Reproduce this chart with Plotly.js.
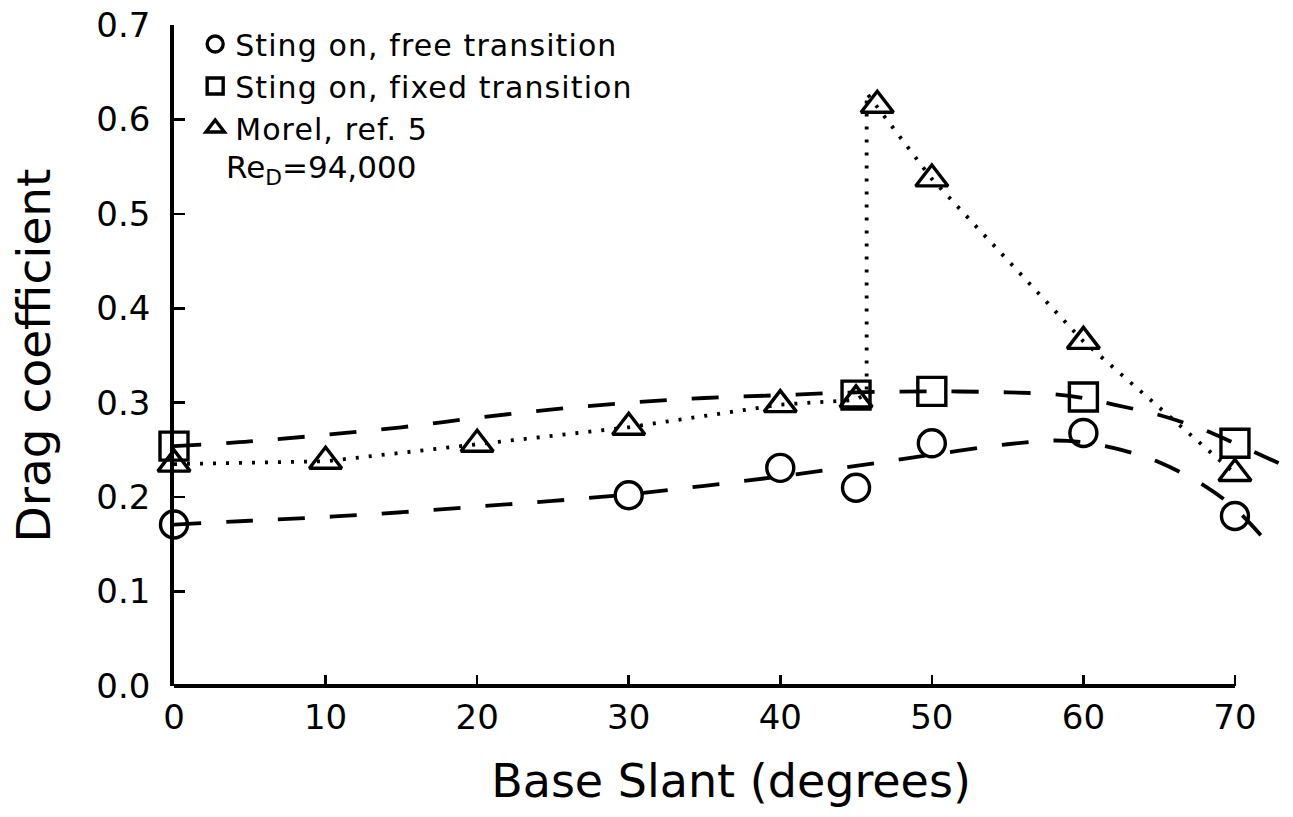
<!DOCTYPE html>
<html>
<head>
<meta charset="utf-8">
<script src="https://cdn.plot.ly/plotly-3.0.1.min.js"></script>
<style>
html,body{margin:0;padding:0;background:#fff;}
.legendtext{letter-spacing:1.1px;}
</style>
</head>
<body>
<div id="chart" style="width:1293px;height:817px;"></div>
<script>
// ---- data ----
const freeX = [0, 30, 40, 45, 50, 60, 70];
const freeY = [0.171, 0.202, 0.231, 0.210, 0.257, 0.268, 0.180];

const fixedX = [0, 45, 50, 60, 70];
const fixedY = [0.254, 0.308, 0.312, 0.306, 0.257];

const morelX = [0, 10, 20, 30, 40, 45, 46.4, 50, 60, 70];
const morelY = [0.235, 0.238, 0.256, 0.274, 0.298, 0.303, 0.615, 0.537, 0.365, 0.225];

// dotted connecting path of Morel's data (with the jump near 45.7 deg)
const morelPathX = [0, 10, 20, 30, 40, 45, 45.7, 45.7, 50, 60, 70];
const morelPathY = [0.235, 0.238, 0.256, 0.274, 0.298, 0.303, 0.31, 0.628, 0.537, 0.365, 0.225];

// dashed fitted curves
const fixedFitX = [0, 5, 10, 15, 20, 25, 30, 35, 40, 45, 50, 55, 58, 60, 62, 65, 68, 70, 73.3];
const fixedFitY = [0.254, 0.259, 0.266, 0.274, 0.284, 0.293, 0.300, 0.305, 0.308, 0.311, 0.312, 0.311, 0.309, 0.305, 0.298, 0.287, 0.271, 0.257, 0.233];

const freeFitX = [0, 5, 10, 15, 20, 25, 30, 35, 40, 45, 50, 55, 58, 60, 62.5, 65, 68, 70, 71.8];
const freeFitY = [0.171, 0.175, 0.179, 0.184, 0.190, 0.196, 0.203, 0.212, 0.222, 0.233, 0.245, 0.256, 0.260, 0.258, 0.250, 0.237, 0.212, 0.188, 0.158];

const xTicks = [0, 10, 20, 30, 40, 50, 60, 70];
const yTicks = [0.0, 0.1, 0.2, 0.3, 0.4, 0.5, 0.6, 0.7];

const seriesNames = ["Sting on, free transition", "Sting on, fixed transition", "Morel, ref. 5"];

// ---- styling ----
const FONT = "DejaVu Sans, Verdana, sans-serif";
const xMax = 73.5;
const xAxisEnd = 70;
const dashStyle = "27px,25px";
const dotStyle = "3px,10px";
const mline = {color: "black", width: 3.4};

const traces = [
  {x: freeFitX, y: freeFitY, mode: "lines", line: {shape: "spline", color: "black", width: 3.8, dash: dashStyle}, showlegend: false, hoverinfo: "skip"},
  {x: fixedFitX, y: fixedFitY, mode: "lines", line: {shape: "spline", color: "black", width: 3.8, dash: dashStyle}, showlegend: false, hoverinfo: "skip"},
  {x: morelPathX, y: morelPathY, mode: "lines", line: {color: "black", width: 3.8, dash: dotStyle}, showlegend: false, hoverinfo: "skip"},
  {x: freeX, y: freeY, mode: "markers", name: seriesNames[0], cliponaxis: false,
   marker: {symbol: "circle-open", size: 27, color: "black", line: mline}},
  {x: fixedX, y: fixedY, mode: "markers", name: seriesNames[1], cliponaxis: false,
   marker: {symbol: "square-open", size: 28, color: "black", line: mline}},
  {x: morelX, y: morelY, mode: "markers", name: seriesNames[2], cliponaxis: false,
   marker: {symbol: "triangle-up-open", size: 28, color: "black", line: mline}}
];

const layout = {
  width: 1293, height: 817,
  margin: {l: 174, r: 5, t: 25, b: 131},
  paper_bgcolor: "white", plot_bgcolor: "white",
  font: {family: FONT, color: "black"},
  showlegend: true,
  legend: {
    x: 0.019, y: 1.0106, xanchor: "left", yanchor: "top",
    font: {family: FONT, size: 30, color: "black"},
    bgcolor: "rgba(0,0,0,0)", borderwidth: 0, tracegroupgap: 0
  },
  xaxis: {
    range: [0, xMax], showgrid: false, zeroline: false, showline: false,
    tickvals: xTicks, ticktext: xTicks.map(String),
    ticks: "inside", ticklen: 11, tickwidth: 2.5, tickcolor: "black",
    ticklabelstandoff: 8,
    tickfont: {family: FONT, size: 34, color: "black"},
    title: {text: "Base Slant (degrees)", font: {family: FONT, size: 46, color: "black"}, standoff: 28},
    fixedrange: true
  },
  yaxis: {
    range: [0, 0.7], showgrid: false, zeroline: false,
    showline: true, linecolor: "black", linewidth: 3.8,
    tickvals: yTicks, tickformat: ".1f",
    ticks: "inside", ticklen: 11, tickwidth: 2.5, tickcolor: "black",
    ticklabelstandoff: 13,
    tickfont: {family: FONT, size: 34, color: "black"},
    title: {text: "Drag coefficient", font: {family: FONT, size: 47, color: "black"}, standoff: 32},
    fixedrange: true
  },
  shapes: [
    {type: "line", xref: "paper", yref: "paper", x0: 0, x1: xAxisEnd / xMax, y0: 0, y1: 0,
     line: {color: "black", width: 3.8}}
  ],
  annotations: [
    {xref: "paper", yref: "paper", x: 0.045, y: 0.782, xanchor: "left", yanchor: "middle",
     text: "Re<sub>D</sub>=94,000", showarrow: false,
     font: {family: FONT, size: 31, color: "black"}}
  ]
};

Plotly.newPlot("chart", traces, layout, {displayModeBar: false, staticPlot: true});
</script>
</body>
</html>
